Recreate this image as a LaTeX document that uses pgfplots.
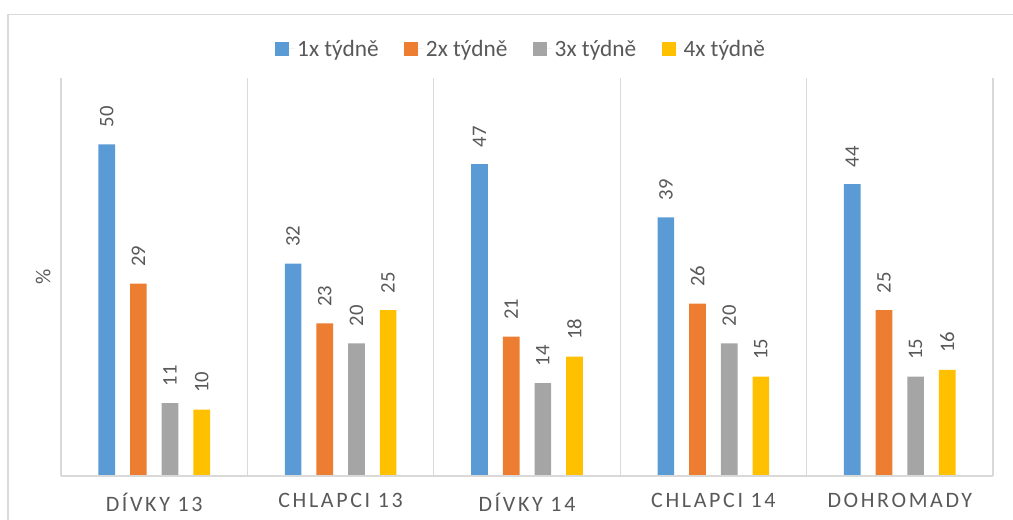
\documentclass[border=0pt]{standalone}
\usepackage{fontspec}
\setmainfont{Carlito}
\newfontfamily\spaced[LetterSpace=12]{Carlito}
\usepackage{pgfplots}
\pgfplotsset{compat=1.18}
\definecolor{cBlue}{HTML}{5B9BD5}
\definecolor{cOrange}{HTML}{ED7D31}
\definecolor{cGray}{HTML}{A5A5A5}
\definecolor{cYellow}{HTML}{FFC000}
\definecolor{txt}{HTML}{595959}
\definecolor{grid}{HTML}{D9D9D9}
\begin{document}
\begin{tikzpicture}
\useasboundingbox (0,0) rectangle (759.75pt,389.25pt);
\draw[grid, line width=1pt] (6pt,-10pt) -- (6pt,378.4pt) -- (770pt,378.4pt);
\begin{axis}[
  at={(45.75pt,32.25pt)}, anchor=south west,
  scale only axis, width=699pt, height=298.5pt,
  xmin=-0.5, xmax=4.5, ymin=0, ymax=60,
  ybar=11.25pt, bar width=12.5pt,
  axis line style={draw=none},
  ytick=\empty,
  xtick={0,1,2,3,4},
  xticklabels={DÍVKY 13, CHLAPCI 13, DÍVKY 14, CHLAPCI 14, DOHROMADY},
  minor xtick={-0.5,0.5,1.5,2.5,3.5,4.5},
  minor x grid style={grid, line width=1pt},
  xminorgrids=true,
  major tick length=0pt, minor tick length=0pt,
  xticklabel style={font=\spaced\fontsize{16.5pt}{19pt}\selectfont, text=txt, anchor=north, inner sep=0pt, yshift=-12.5pt},
  ylabel={\%},
  ylabel style={at={(axis description cs:-0.019,0.5)}, anchor=center, font=\fontsize{16pt}{19pt}\selectfont, text=txt},
  /pgf/number format/assume math mode=true,
  nodes near coords,
  nodes near coords style={rotate=90, anchor=west, inner xsep=12.5pt, inner ysep=0pt, font=\fontsize{15.5pt}{18pt}\selectfont, text=txt},
  legend columns=4,
  legend style={at={(axis description cs:0.494,1.073)}, anchor=center, draw=none, fill=none,
    font=\fontsize{17.5pt}{20pt}\selectfont, text=txt,
    /tikz/every even column/.append style={column sep=17pt}},
  legend image code/.code={\fill[#1] (0pt,-5.25pt) rectangle (10.5pt,5.25pt); \path (0pt,0pt) -- (14.5pt,0pt);},
  after end axis/.code={\draw[grid, line width=1pt] (rel axis cs:0,0) -- (rel axis cs:1,0);},
]
\addplot[fill=cBlue, draw=none] coordinates {(0,50) (1,32) (2,47) (3,39) (4,44)};
\addplot[fill=cOrange, draw=none] coordinates {(0,29) (1,23) (2,21) (3,26) (4,25)};
\addplot[fill=cGray, draw=none] coordinates {(0,11) (1,20) (2,14) (3,20) (4,15)};
\addplot[fill=cYellow, draw=none] coordinates {(0,10) (1,25) (2,18) (3,15) (4,16)};
\legend{1x týdně, 2x týdně, 3x týdně, 4x týdně}
\end{axis}
\end{tikzpicture}
\end{document}
